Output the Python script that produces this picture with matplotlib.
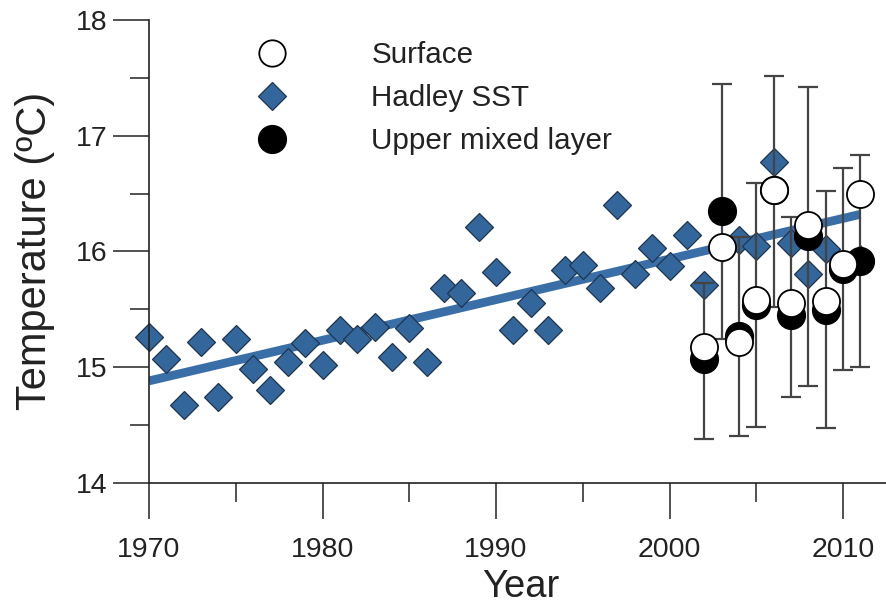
import matplotlib
matplotlib.use("Agg")
import matplotlib.pyplot as plt
from matplotlib.lines import Line2D
from matplotlib.ticker import MultipleLocator
import numpy as np

plt.rcParams['font.family'] = ['Liberation Sans', 'DejaVu Sans']

# ---- data ----
hadley_years = list(range(1970, 2012))
hadley_sst = [15.26, 15.07, 14.67, 15.22, 14.74, 15.24, 14.98, 14.80, 15.04, 15.21,
              15.02, 15.32, 15.24, 15.35, 15.09, 15.34, 15.04, 15.68, 15.64, 16.21,
              15.82, 15.32, 15.55, 15.32, 15.84, 15.88, 15.68, 16.40, 15.80, 16.03,
              15.87, 16.14, 15.71, 16.03, 16.10, 16.05, 16.77, 16.07, 15.80, 16.02,
              15.89, 15.93]

trend_years = [1970, 2011]
trend_values = [14.88, 16.32]

obs_years = [2002, 2003, 2004, 2005, 2006, 2007, 2008, 2009, 2010, 2011]
surface = [15.17, 16.04, 15.22, 15.58, 16.53, 15.55, 16.23, 15.57, 15.89, 16.50]
upper_mixed = [15.07, 16.35, 15.27, 15.54, 16.53, 15.45, 16.13, 15.49, 15.85, 15.92]
err_low = [14.38, 15.24, 14.40, 14.48, 15.52, 14.74, 14.84, 14.47, 14.97, 15.00]
err_high = [15.73, 17.45, 16.12, 16.59, 17.52, 16.30, 17.42, 16.52, 16.72, 16.83]

x_ticks = [1970, 1980, 1990, 2000, 2010]
y_ticks = [14, 15, 16, 17, 18]

legend_labels = ["Surface", "Hadley SST", "Upper mixed layer"]

# ---- style ----
W, H = 887, 612
fig = plt.figure(figsize=(W / 100, H / 100), dpi=100)
ax_left, ax_right, ax_top, ax_bottom = 149, 887, 20, 482.7
ax = fig.add_axes([ax_left / W, 1 - ax_bottom / H, (ax_right - ax_left) / W, (ax_bottom - ax_top) / H])

blue_fill = '#33669A'
blue_edge = '#1E3550'
trend_color = '#3A6EA6'
err_color = '#444444'

ax.plot(trend_years, trend_values, color=trend_color, lw=6.3, solid_capstyle='butt', zorder=1)

ax.plot(hadley_years, hadley_sst, linestyle='none', marker='D', markersize=14,
        markerfacecolor=blue_fill, markeredgecolor=blue_edge, markeredgewidth=0.9,
        zorder=2, clip_on=False)

centers = [(lo + hi) / 2 for lo, hi in zip(err_low, err_high)]
yerr = [[c - lo for c, lo in zip(centers, err_low)], [hi - c for c, hi in zip(centers, err_high)]]
eb = ax.errorbar(obs_years, centers, yerr=yerr, fmt='none', ecolor=err_color, elinewidth=1.6,
                 capsize=7.2, capthick=1.6, zorder=3)
for part in eb.lines[1] + tuple(eb.lines[2]):
    part.set_clip_on(False)

ax.plot(obs_years, upper_mixed, linestyle='none', marker='o', markersize=20,
        markerfacecolor='black', markeredgecolor='black', markeredgewidth=1.0, zorder=4, clip_on=False)
ax.plot(obs_years, surface, linestyle='none', marker='o', markersize=19.5,
        markerfacecolor='white', markeredgecolor='black', markeredgewidth=1.3, zorder=5, clip_on=False)

ax.set_xlim(1970, 1970 + (ax_right - ax_left) / 17.35)
ax.set_ylim(14, 18)

for s in ['top', 'right']:
    ax.spines[s].set_visible(False)
for s in ['left', 'bottom']:
    ax.spines[s].set_linewidth(1.2)
    ax.spines[s].set_color('#222222')

ax.set_xticks(x_ticks)
ax.set_yticks(y_ticks)
ax.set_xticklabels([str(t) for t in x_ticks])
ax.set_yticklabels([str(t) for t in y_ticks])
ax.xaxis.set_minor_locator(MultipleLocator(5))
ax.yaxis.set_minor_locator(MultipleLocator(0.5))
ax.tick_params(which='major', direction='out', length=26, width=1.2, color='#333333',
               labelsize=20.5, labelcolor='#222222')
ax.tick_params(which='minor', direction='out', length=13.5, width=1.2, color='#333333')
ax.tick_params(axis='x', which='major', pad=13)
ax.tick_params(axis='y', which='major', pad=4)

ax.set_xlabel('Year', fontsize=27.5, color='#222222')
ax.set_ylabel('Temperature (ºC)', fontsize=30, color='#222222')
ax.xaxis.set_label_coords(0.504, -0.187)
ax.yaxis.set_label_coords(-0.128, 0.5)

handles = [
    Line2D([], [], linestyle='none', marker='o', markersize=19, markerfacecolor='white',
           markeredgecolor='black', markeredgewidth=1.3),
    Line2D([], [], linestyle='none', marker='D', markersize=14, markerfacecolor=blue_fill,
           markeredgecolor=blue_edge, markeredgewidth=0.9),
    Line2D([], [], linestyle='none', marker='o', markersize=20, markerfacecolor='black',
           markeredgecolor='black'),
]
leg = ax.legend(handles, legend_labels, loc='upper left', frameon=False, fontsize=21.3,
                handlelength=1.0, handletextpad=2.85, labelspacing=0.51, borderpad=0,
                borderaxespad=0, bbox_to_anchor=(257.4 / W, 1 - 41 / H),
                bbox_transform=fig.transFigure)
for t in leg.get_texts():
    t.set_color('#222222')

fig.savefig('out.png', dpi=100)
